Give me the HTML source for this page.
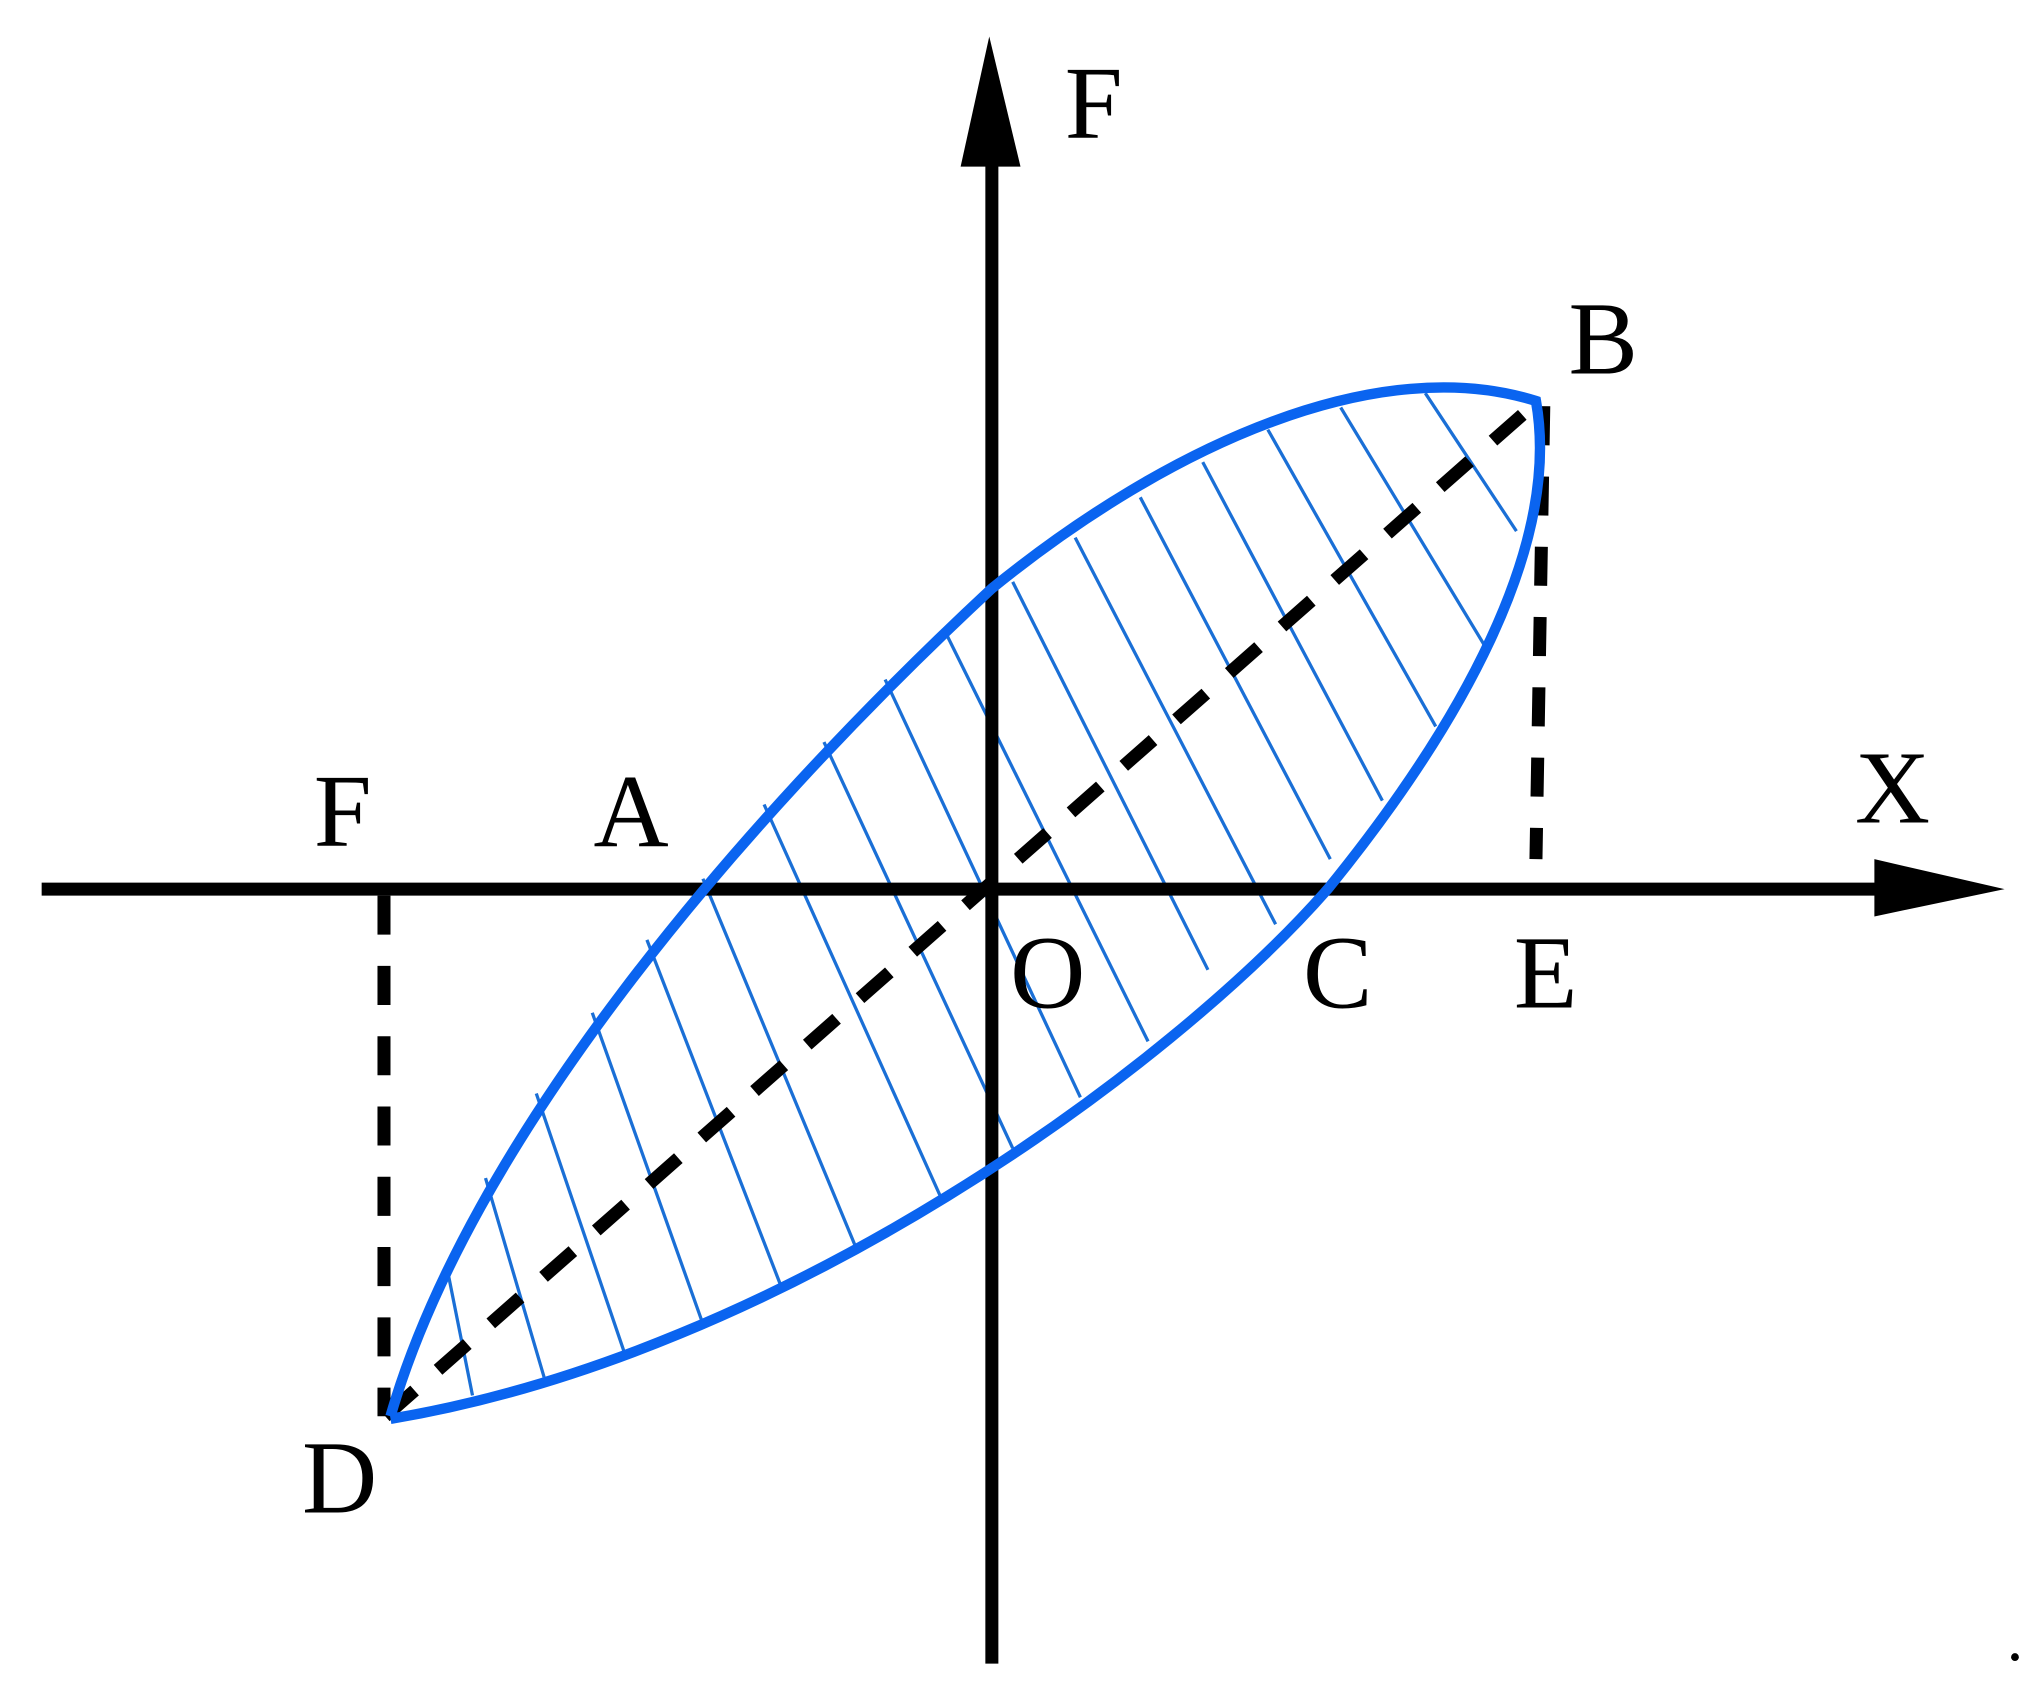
<!DOCTYPE html>
<html><head><meta charset="utf-8"><style>html,body{margin:0;padding:0;background:#fff}svg{display:block}</style></head>
<body>
<svg width="2041" height="1691" viewBox="0 0 1568 1299" xmlns="http://www.w3.org/2000/svg">
<rect width="1568" height="1299" fill="#fff"/>
<g stroke="#1a6fd6" stroke-width="2.5">
<line x1="343" y1="972" x2="363" y2="1072"/>
<line x1="373" y1="905" x2="418" y2="1058"/>
<line x1="412" y1="840" x2="480" y2="1040"/>
<line x1="455" y1="778" x2="540" y2="1017"/>
<line x1="497" y1="722" x2="600" y2="988"/>
<line x1="540" y1="675" x2="657" y2="957"/>
<line x1="587" y1="618" x2="722" y2="918"/>
<line x1="633" y1="570" x2="778" y2="882"/>
<line x1="680" y1="522" x2="830" y2="843"/>
<line x1="727" y1="487" x2="882" y2="800"/>
<line x1="778" y1="447" x2="928" y2="745"/>
<line x1="826" y1="413" x2="980" y2="710"/>
<line x1="876" y1="382" x2="1022" y2="660"/>
<line x1="924" y1="355" x2="1062" y2="615"/>
<line x1="974" y1="330" x2="1103" y2="558"/>
<line x1="1030" y1="313" x2="1140" y2="495"/>
<line x1="1095" y1="302" x2="1165" y2="408"/>
</g>
<g stroke="#000" stroke-width="10" fill="none">
<line x1="32" y1="683" x2="1445" y2="683"/>
<line x1="762" y1="1278" x2="762" y2="120"/>
</g>
<polygon points="1440,660 1540,683 1440,704" fill="#000"/>
<polygon points="738,128 760,28 784,128" fill="#000"/>
<g stroke="#000" stroke-width="10" fill="none" stroke-dasharray="30,24">
<line x1="296" y1="1088" x2="1185" y2="305"/>
<line x1="295" y1="688" x2="295" y2="1088"/>
<line x1="1186" y1="312" x2="1180" y2="660"/>
</g>
<path d="M300,1088 C360,880 560,640 762,452 C900,340 1060,270 1180,308 C1200,420 1120,560 1020,683 C900,820 600,1040 300,1090" fill="none" stroke="#0a64f0" stroke-width="8"/>
<g font-family="'Liberation Serif', serif" font-size="80" fill="#000">
<text x="818" y="106">F</text>
<text x="1205" y="287">B</text>
<text x="241" y="650">F</text>
<text x="456" y="650">A</text>
<text x="1425" y="632">X</text>
<text x="776" y="774">O</text>
<text x="1001" y="774">C</text>
<text x="1163" y="774">E</text>
<text x="232" y="1162">D</text>
</g>
<circle cx="1548" cy="1273" r="3" fill="#000"/>
</svg>
</body></html>
